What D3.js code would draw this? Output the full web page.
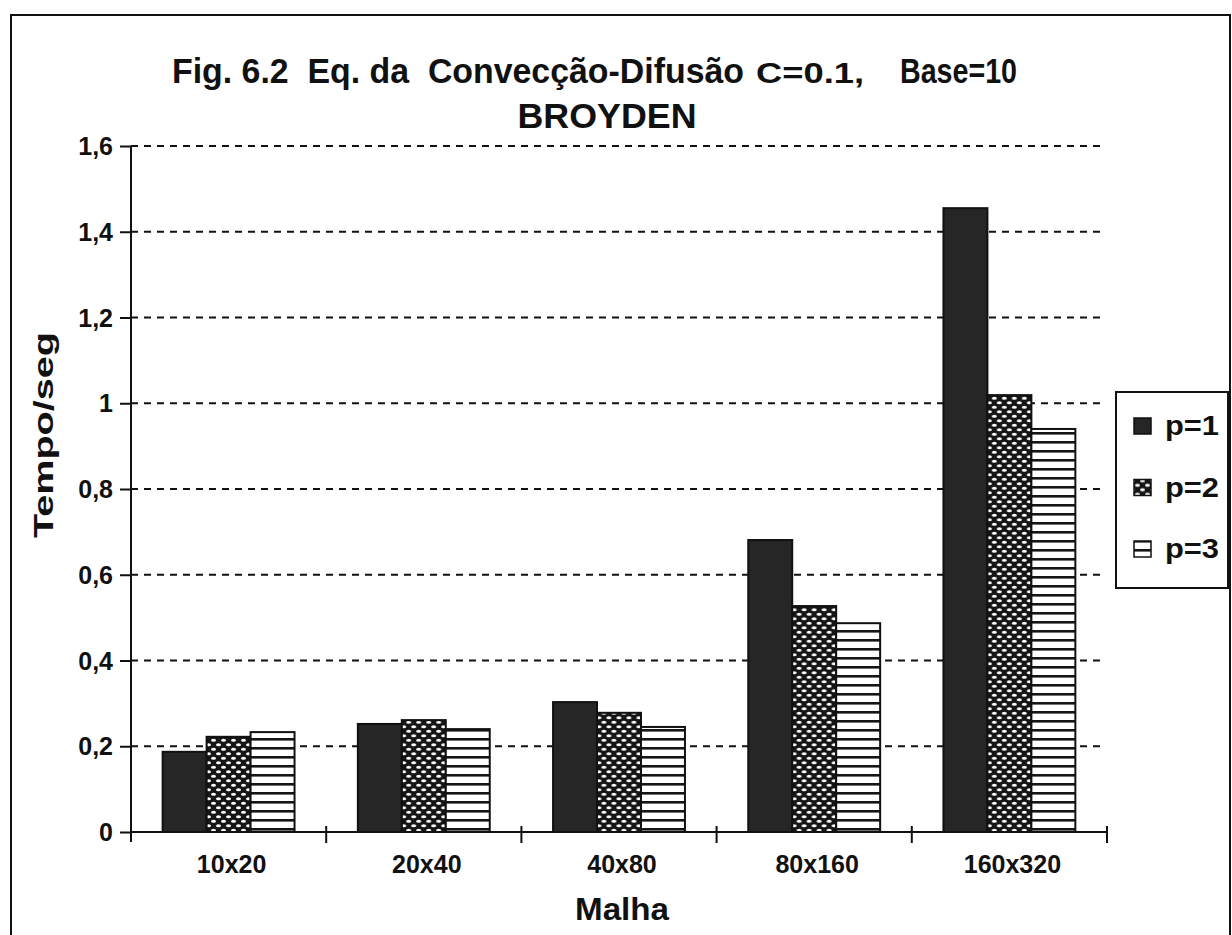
<!DOCTYPE html>
<html>
<head>
<meta charset="utf-8">
<script src="https://cdn.jsdelivr.net/npm/d3@7"></script>
<style>
  html, body { margin: 0; padding: 0; background: #fff; }
  svg text { font-family: "Liberation Sans", Arial, sans-serif; font-weight: bold; fill: #111; white-space: pre; }
</style>
</head>
<body>
<svg id="chart" width="1232" height="935"></svg>
<script>
// Mesh sizes and timings (seconds) for each order p
const categories = ["10x20", "20x40", "40x80", "80x160", "160x320"];
const seriesNames = ["p=1", "p=2", "p=3"];
const p1 = [0.187, 0.252, 0.303, 0.681, 1.455];
const p2 = [0.222, 0.261, 0.278, 0.527, 1.019];
const p3 = [0.233, 0.240, 0.245, 0.487, 0.940];
const yTicks = [0, 0.2, 0.4, 0.6, 0.8, 1.0, 1.2, 1.4, 1.6];
const yTickLabels = ["0", "0,2", "0,4", "0,6", "0,8", "1", "1,2", "1,4", "1,6"];

const seriesValues = [p1, p2, p3];
const table = categories.map((c, i) => ({
  category: c,
  values: seriesNames.map((s, j) => ({ series: s, value: seriesValues[j][i] }))
}));

const svg = d3.select("#chart");
const plot = { left: 131, right: 1107, top: 146, bottom: 832, gridRight: 1100 };

// Outer frame
svg.append("rect")
  .attr("x", 11).attr("y", 15).attr("width", 1219).attr("height", 960)
  .attr("fill", "none").attr("stroke", "#111").attr("stroke-width", 2);

// Fill patterns
const defs = svg.append("defs");
const mesh = defs.append("pattern").attr("id", "pat-mesh")
  .attr("patternUnits", "userSpaceOnUse").attr("width", 10).attr("height", 9);
mesh.append("rect").attr("width", 10).attr("height", 9).attr("fill", "#151515");
mesh.append("ellipse").attr("cx", 2.5).attr("cy", 2.25).attr("rx", 2.5).attr("ry", 1.6).attr("fill", "#fff");
mesh.append("ellipse").attr("cx", 7.5).attr("cy", 6.75).attr("rx", 2.5).attr("ry", 1.6).attr("fill", "#fff");

const stripes = defs.append("pattern").attr("id", "pat-stripes")
  .attr("patternUnits", "userSpaceOnUse").attr("width", 10).attr("height", 9);
stripes.append("rect").attr("width", 10).attr("height", 9).attr("fill", "#fff");
stripes.append("rect").attr("y", 0).attr("width", 10).attr("height", 2.6).attr("fill", "#151515");

const fills = { "p=1": "#262626", "p=2": "url(#pat-mesh)", "p=3": "url(#pat-stripes)" };

// Scales
const x0 = d3.scaleBand().domain(categories).range([plot.left, plot.right]).paddingInner(0).paddingOuter(0);
const x1 = d3.scaleBand().domain(seriesNames).range([0, x0.bandwidth()]).paddingInner(0).paddingOuter(0.72);
const y = d3.scaleLinear().domain([0, 1.6]).range([plot.bottom, plot.top]);

// Dashed gridlines
svg.append("g").selectAll("line")
  .data(yTicks.filter(t => t > 0))
  .join("line")
  .attr("x1", plot.left).attr("x2", plot.gridRight)
  .attr("y1", d => y(d)).attr("y2", d => y(d))
  .attr("stroke", "#111").attr("stroke-width", 2)
  .attr("stroke-dasharray", "7,6");

// Bars
const groups = svg.append("g").selectAll("g")
  .data(table).join("g")
  .attr("transform", d => `translate(${x0(d.category)},0)`);
groups.selectAll("rect")
  .data(d => d.values).join("rect")
  .attr("x", d => x1(d.series))
  .attr("width", x1.bandwidth())
  .attr("y", d => y(d.value))
  .attr("height", d => y(0) - y(d.value))
  .attr("fill", d => fills[d.series])
  .attr("stroke", "#111").attr("stroke-width", 2);

// Y axis
const yAxis = d3.axisLeft(y).tickValues(yTicks).tickSize(11).tickPadding(7)
  .tickFormat((d, i) => yTickLabels[i]);
const gy = svg.append("g").attr("transform", `translate(${plot.left},0)`).call(yAxis);
gy.select(".domain").attr("d", `M0,${plot.top}V${plot.bottom + 10}`).attr("stroke", "#111").attr("stroke-width", 2);
gy.selectAll(".tick line").attr("stroke", "#111").attr("stroke-width", 2);
gy.selectAll(".tick text").attr("font-size", 25).attr("dy", "0.34em").attr("fill", "#111")
  .style("font-family", "'Liberation Sans', Arial, sans-serif").style("font-weight", "bold");

// X axis: ticks on category boundaries, labels at band centres
const gx = svg.append("g").attr("transform", `translate(0,${plot.bottom})`);
gx.append("line").attr("x1", plot.left).attr("x2", plot.right)
  .attr("stroke", "#111").attr("stroke-width", 2);
const boundaries = categories.map(c => x0(c)).concat([x0(categories[categories.length - 1]) + x0.bandwidth()]);
gx.selectAll("line.tk").data(boundaries.slice(1)).join("line").attr("class", "tk")
  .attr("x1", d => d).attr("x2", d => d).attr("y1", -6).attr("y2", 11)
  .attr("stroke", "#111").attr("stroke-width", 2);
gx.selectAll("text").data(categories).join("text")
  .attr("x", d => x0(d) + x0.bandwidth() / 2 + 3)
  .attr("y", 41)
  .attr("text-anchor", "middle").attr("font-size", 25)
  .text(d => d);

// Axis titles
svg.append("text").attr("x", 622).attr("y", 920).attr("text-anchor", "middle")
  .attr("font-size", 31).attr("textLength", 94).attr("lengthAdjust", "spacingAndGlyphs").text("Malha");
svg.append("text").attr("transform", "translate(53,435) rotate(-90)").attr("text-anchor", "middle")
  .attr("font-size", 27).attr("textLength", 206).attr("lengthAdjust", "spacingAndGlyphs").text("Tempo/seg");

// Title
svg.append("text").attr("x", 172).attr("y", 83).attr("font-size", 35)
  .attr("textLength", 572).attr("lengthAdjust", "spacingAndGlyphs")
  .text("Fig. 6.2  Eq. da  Convecção-Difusão");
svg.append("text").attr("x", 756).attr("y", 83).attr("font-size", 29)
  .attr("textLength", 108).attr("lengthAdjust", "spacingAndGlyphs").text("C=0.1,");
svg.append("text").attr("x", 900).attr("y", 83).attr("font-size", 35)
  .attr("textLength", 117).attr("lengthAdjust", "spacingAndGlyphs").text("Base=10");
svg.append("text").attr("x", 607).attr("y", 128).attr("font-size", 35).attr("text-anchor", "middle")
  .attr("textLength", 179).attr("lengthAdjust", "spacingAndGlyphs").text("BROYDEN");

// Legend
const legend = svg.append("g");
legend.append("rect").attr("x", 1116).attr("y", 392).attr("width", 112).attr("height", 196)
  .attr("fill", "#fff").attr("stroke", "#111").attr("stroke-width", 2);
const items = legend.selectAll("g.item").data(seriesNames).join("g").attr("class", "item")
  .attr("transform", (d, i) => `translate(0,${435 + i * 61.5})`);
items.append("rect").attr("x", 1134).attr("y", -17).attr("width", 17).attr("height", 16)
  .attr("fill", d => fills[d]).attr("stroke", "#111").attr("stroke-width", 1.5);
items.append("text").attr("x", 1165).attr("y", 0).attr("font-size", 27)
  .attr("textLength", 54).attr("lengthAdjust", "spacingAndGlyphs").text(d => d);
</script>
</body>
</html>
